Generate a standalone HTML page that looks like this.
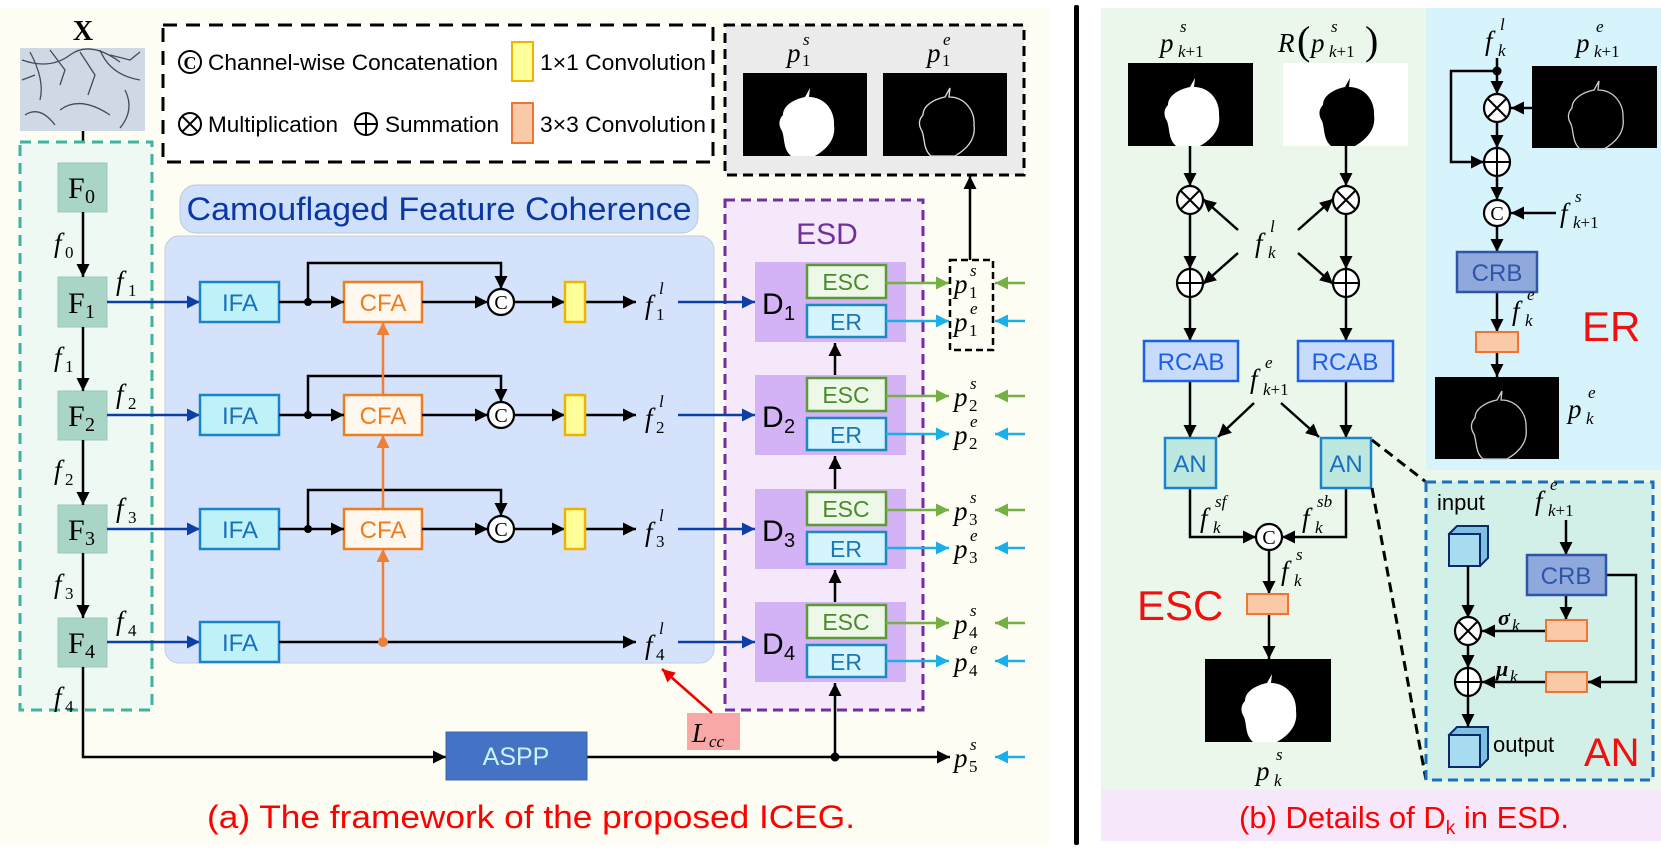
<!DOCTYPE html>
<html><head><meta charset="utf-8"><style>
html,body{margin:0;padding:0;background:#fff}
svg{display:block}
.sans{font-family:"Liberation Sans",sans-serif}
.m{font-family:"Liberation Serif",serif;font-style:italic;font-size:27px}
.sp{font-family:"Liberation Serif",serif;font-style:italic;font-size:17px}
.sb{font-family:"Liberation Serif",serif;font-size:17px}
.sbi{font-family:"Liberation Serif",serif;font-style:italic;font-size:17px}
</style></head><body>
<svg width="1661" height="850" viewBox="0 0 1661 850" xmlns="http://www.w3.org/2000/svg">
<defs>
<marker id="ak" viewBox="0 0 10 10" refX="10" refY="5" markerWidth="13" markerHeight="13" markerUnits="userSpaceOnUse" orient="auto"><path d="M0,0 L10,5 L0,10 z" fill="#000"/></marker>
<marker id="ab" viewBox="0 0 10 10" refX="10" refY="5" markerWidth="13" markerHeight="13" markerUnits="userSpaceOnUse" orient="auto"><path d="M0,0 L10,5 L0,10 z" fill="#0c3ea8"/></marker>
<marker id="ag" viewBox="0 0 10 10" refX="10" refY="5" markerWidth="13" markerHeight="13" markerUnits="userSpaceOnUse" orient="auto"><path d="M0,0 L10,5 L0,10 z" fill="#74b043"/></marker>
<marker id="ac" viewBox="0 0 10 10" refX="10" refY="5" markerWidth="13" markerHeight="13" markerUnits="userSpaceOnUse" orient="auto"><path d="M0,0 L10,5 L0,10 z" fill="#19b0ea"/></marker>
<marker id="ao" viewBox="0 0 10 10" refX="10" refY="5" markerWidth="13" markerHeight="13" markerUnits="userSpaceOnUse" orient="auto"><path d="M0,0 L10,5 L0,10 z" fill="#ee8038"/></marker>
<marker id="ar" viewBox="0 0 10 10" refX="10" refY="5" markerWidth="13" markerHeight="13" markerUnits="userSpaceOnUse" orient="auto"><path d="M0,0 L10,5 L0,10 z" fill="#e00"/></marker>
<path id="blob" d="M40,42 C40,32 52,26 62,24 L67,15 L66,24 C82,24 92,38 91,52 C93,66 84,76 72,83 L48,83 C40,76 42,66 39,58 C35,52 36,46 40,42 Z"/>
</defs>

<rect x="0" y="8" width="1049" height="837" fill="#fdfdf3"/>
<rect x="1074" y="5" width="5" height="840" rx="2" fill="#000"/>
<rect x="1101" y="8" width="325" height="782" fill="#eaf7ea"/>
<rect x="1426" y="8" width="235" height="462" fill="#d7f3fb"/>
<rect x="1426" y="470" width="235" height="320" fill="#eaf7ea"/>
<rect x="1101" y="790" width="560" height="51" fill="#f6e8fa"/>

<text x="83" y="40" text-anchor="middle" font-family="Liberation Serif" font-weight="bold" font-size="28">X</text>
<rect x="20" y="48" width="125" height="83" fill="#cfd9e6"/>
<g stroke="#2b3340" stroke-width="1.3" fill="none" opacity="0.85">
<path d="M22,60 Q50,70 70,55 T120,62"/><path d="M30,52 Q45,80 40,100"/><path d="M100,50 Q110,75 140,80"/><path d="M60,110 Q80,95 110,115"/><path d="M125,90 Q135,110 120,128"/><path d="M25,115 Q40,105 55,125"/><path d="M80,52 L95,75 L88,95"/><path d="M50,50 L65,70 L60,85"/><path d="M110,55 L130,60 L140,52"/><path d="M22,80 L35,75"/>
</g>
<line x1="83" y1="131" x2="83" y2="163" stroke="#000" stroke-width="2.5" marker-end="url(#ak)"/>

<rect x="163" y="25" width="550" height="137" fill="#fff" stroke="#000" stroke-width="3" stroke-dasharray="14,9"/>
<circle cx="190" cy="62" r="11" fill="none" stroke="#000" stroke-width="2"/>
<text x="190" y="69" text-anchor="middle" font-family="Liberation Serif" font-size="18" font-weight="bold">C</text>
<text x="208" y="70" class="sans" font-size="22" textLength="290" lengthAdjust="spacingAndGlyphs">Channel-wise Concatenation</text>
<rect x="512" y="42" width="21" height="39" fill="#ffff99" stroke="#f0b400" stroke-width="2"/>
<text x="540" y="70" class="sans" font-size="22" textLength="166" lengthAdjust="spacingAndGlyphs">1×1 Convolution</text>
<circle cx="190" cy="124" r="11" fill="none" stroke="#000" stroke-width="2"/>
<path d="M182,116 L198,132 M198,116 L182,132" stroke="#000" stroke-width="2"/>
<text x="208" y="132" class="sans" font-size="22" textLength="130" lengthAdjust="spacingAndGlyphs">Multiplication</text>
<circle cx="366" cy="124" r="11" fill="none" stroke="#000" stroke-width="2"/>
<path d="M355,124 L377,124 M366,113 L366,135" stroke="#000" stroke-width="2"/>
<text x="385" y="132" class="sans" font-size="22" textLength="114" lengthAdjust="spacingAndGlyphs">Summation</text>
<rect x="512" y="103" width="21" height="40" fill="#f9c9a8" stroke="#f07535" stroke-width="2"/>
<text x="540" y="132" class="sans" font-size="22" textLength="166" lengthAdjust="spacingAndGlyphs">3×3 Convolution</text>

<rect x="725" y="25" width="299" height="150" fill="#ebebeb" stroke="#000" stroke-width="3" stroke-dasharray="10,6"/>
<text x="787" y="62" class="m">p</text><text x="803" y="45" class="sp">s</text><text x="802" y="66" class="sb">1</text>
<text x="927" y="62" class="m">p</text><text x="943" y="45" class="sp">e</text><text x="942" y="66" class="sb">1</text>
<rect x="743" y="73" width="124" height="83" fill="#000"/>
<use href="#blob" x="743" y="73" fill="#fff"/>
<rect x="883" y="73" width="124" height="83" fill="#000"/>
<use href="#blob" x="883" y="73" fill="none" stroke="#ddd" stroke-width="1.3"/>

<rect x="20" y="142" width="132" height="568" fill="#eef9f4" stroke="#3fb3a0" stroke-width="3" stroke-dasharray="11,7"/>

<rect x="165" y="236" width="549" height="427" rx="14" fill="#d4e3fb" stroke="#c4cde0"/>
<rect x="180" y="185" width="518" height="48" rx="16" fill="#cfe0fa" stroke="#bdc8da"/>
<text x="439" y="220" text-anchor="middle" class="sans" font-size="32" fill="#0a36a6" textLength="505" lengthAdjust="spacingAndGlyphs">Camouflaged Feature Coherence</text>

<rect x="725" y="200" width="198" height="510" fill="#f6e8fb" stroke="#7030a0" stroke-width="3" stroke-dasharray="10,6"/>
<text x="827" y="244" text-anchor="middle" class="sans" font-size="30" fill="#7030a0">ESD</text>

<g fill="#a9d5c6" stroke="#9cc8b8">
<rect x="58" y="163" width="49" height="49"/><rect x="58" y="277" width="49" height="50"/>
<rect x="58" y="391" width="49" height="49"/><rect x="58" y="505" width="49" height="48"/>
<rect x="58" y="618" width="49" height="49"/>
</g>
<g font-family="Liberation Serif" font-size="30">
<text x="68" y="198">F</text><text x="85" y="203" font-size="20">0</text>
<text x="68" y="313">F</text><text x="85" y="318" font-size="20">1</text>
<text x="68" y="426">F</text><text x="85" y="431" font-size="20">2</text>
<text x="68" y="540">F</text><text x="85" y="545" font-size="20">3</text>
<text x="68" y="653">F</text><text x="85" y="658" font-size="20">4</text>
</g>
<g stroke="#000" stroke-width="2.5" fill="none">
<line x1="83" y1="212" x2="83" y2="277" marker-end="url(#ak)"/>
<line x1="83" y1="327" x2="83" y2="391" marker-end="url(#ak)"/>
<line x1="83" y1="440" x2="83" y2="505" marker-end="url(#ak)"/>
<line x1="83" y1="553" x2="83" y2="618" marker-end="url(#ak)"/>
<polyline points="83,667 83,757 446,757" marker-end="url(#ak)"/>
</g>
<text x="54" y="252" class="m">f</text><text x="65" y="258" class="sb">0</text>
<text x="54" y="366" class="m">f</text><text x="65" y="372" class="sb">1</text>
<text x="54" y="479" class="m">f</text><text x="65" y="485" class="sb">2</text>
<text x="54" y="593" class="m">f</text><text x="65" y="599" class="sb">3</text>
<text x="54" y="706" class="m">f</text><text x="65" y="712" class="sb">4</text>
<text x="116" y="290" class="m">f</text><text x="128" y="296" class="sb">1</text>
<text x="116" y="403" class="m">f</text><text x="128" y="409" class="sb">2</text>
<text x="116" y="517" class="m">f</text><text x="128" y="523" class="sb">3</text>
<text x="116" y="630" class="m">f</text><text x="128" y="636" class="sb">4</text>

<g stroke="#0c3ea8" stroke-width="2.5">
<line x1="107" y1="302" x2="200" y2="302" marker-end="url(#ab)"/>
<line x1="107" y1="415" x2="200" y2="415" marker-end="url(#ab)"/>
<line x1="107" y1="529" x2="200" y2="529" marker-end="url(#ab)"/>
<line x1="107" y1="642" x2="200" y2="642" marker-end="url(#ab)"/>
<line x1="678" y1="302" x2="755" y2="302" marker-end="url(#ab)"/>
<line x1="678" y1="415" x2="755" y2="415" marker-end="url(#ab)"/>
<line x1="678" y1="529" x2="755" y2="529" marker-end="url(#ab)"/>
<line x1="678" y1="642" x2="755" y2="642" marker-end="url(#ab)"/>
</g>
<g fill="#bff2f8" stroke="#1a83c9" stroke-width="2.5">
<rect x="200" y="282" width="79" height="40"/><rect x="200" y="395" width="79" height="40"/>
<rect x="200" y="509" width="79" height="40"/><rect x="200" y="622" width="79" height="40"/>
</g>
<g class="sans" font-size="24" fill="#1a70c0" text-anchor="middle">
<text x="240" y="311">IFA</text><text x="240" y="424">IFA</text><text x="240" y="538">IFA</text><text x="240" y="651">IFA</text>
</g>
<g fill="#fff8ee" stroke="#f07c1d" stroke-width="2.5">
<rect x="344" y="282" width="78" height="40"/><rect x="344" y="395" width="78" height="40"/><rect x="344" y="509" width="78" height="40"/>
</g>
<g class="sans" font-size="24" fill="#f07c1d" text-anchor="middle">
<text x="383" y="311">CFA</text><text x="383" y="424">CFA</text><text x="383" y="538">CFA</text>
</g>
<g stroke="#000" stroke-width="2.5" fill="none">
<line x1="279" y1="302" x2="344" y2="302" marker-end="url(#ak)"/>
<line x1="279" y1="415" x2="344" y2="415" marker-end="url(#ak)"/>
<line x1="279" y1="529" x2="344" y2="529" marker-end="url(#ak)"/>
<polyline points="308,302 308,263 501,263 501,289" marker-end="url(#ak)"/>
<polyline points="308,415 308,376 501,376 501,402" marker-end="url(#ak)"/>
<polyline points="308,529 308,490 501,490 501,516" marker-end="url(#ak)"/>
<line x1="422" y1="302" x2="488" y2="302" marker-end="url(#ak)"/>
<line x1="422" y1="415" x2="488" y2="415" marker-end="url(#ak)"/>
<line x1="422" y1="529" x2="488" y2="529" marker-end="url(#ak)"/>
<line x1="514" y1="302" x2="565" y2="302" marker-end="url(#ak)"/>
<line x1="514" y1="415" x2="565" y2="415" marker-end="url(#ak)"/>
<line x1="514" y1="529" x2="565" y2="529" marker-end="url(#ak)"/>
<line x1="585" y1="302" x2="636" y2="302" marker-end="url(#ak)"/>
<line x1="585" y1="415" x2="636" y2="415" marker-end="url(#ak)"/>
<line x1="585" y1="529" x2="636" y2="529" marker-end="url(#ak)"/>
<line x1="279" y1="642" x2="636" y2="642" marker-end="url(#ak)"/>
</g>
<g fill="#000"><circle cx="308" cy="302" r="4"/><circle cx="308" cy="415" r="4"/><circle cx="308" cy="529" r="4"/></g>
<g fill="#fff" stroke="#000" stroke-width="2.2">
<circle cx="501" cy="302" r="13"/><circle cx="501" cy="415" r="13"/><circle cx="501" cy="529" r="13"/>
</g>
<g font-family="Liberation Serif" font-size="20" text-anchor="middle">
<text x="501" y="309">C</text><text x="501" y="422">C</text><text x="501" y="536">C</text>
</g>
<g fill="#ffff99" stroke="#f0b400" stroke-width="2.5">
<rect x="565" y="282" width="20" height="40"/><rect x="565" y="395" width="20" height="40"/><rect x="565" y="509" width="20" height="40"/>
</g>
<g stroke="#ee8038" stroke-width="2.5">
<line x1="383" y1="642" x2="383" y2="549" marker-end="url(#ao)"/>
<line x1="383" y1="509" x2="383" y2="435" marker-end="url(#ao)"/>
<line x1="383" y1="395" x2="383" y2="322" marker-end="url(#ao)"/>
</g>
<circle cx="383" cy="642" r="5" fill="#ee8038"/>
<text x="645" y="314" class="m">f</text><text x="659" y="294" class="sp">l</text><text x="656" y="320" class="sb">1</text>
<text x="645" y="427" class="m">f</text><text x="659" y="407" class="sp">l</text><text x="656" y="433" class="sb">2</text>
<text x="645" y="541" class="m">f</text><text x="659" y="521" class="sp">l</text><text x="656" y="547" class="sb">3</text>
<text x="645" y="654" class="m">f</text><text x="659" y="634" class="sp">l</text><text x="656" y="660" class="sb">4</text>

<g fill="#d3b2f5"><rect x="755" y="262" width="151" height="80"/><rect x="755" y="375" width="151" height="80"/><rect x="755" y="489" width="151" height="80"/><rect x="755" y="602" width="151" height="80"/></g>
<g class="sans" font-size="30"><text x="762" y="314">D</text><text x="784" y="320" font-size="20">1</text>
<text x="762" y="427">D</text><text x="784" y="433" font-size="20">2</text>
<text x="762" y="541">D</text><text x="784" y="547" font-size="20">3</text>
<text x="762" y="654">D</text><text x="784" y="660" font-size="20">4</text></g>
<g fill="#eef8e8" stroke="#5c9a38" stroke-width="2.5">
<rect x="807" y="265" width="79" height="33"/><rect x="807" y="378" width="79" height="33"/><rect x="807" y="492" width="79" height="33"/><rect x="807" y="605" width="79" height="33"/>
</g>
<g fill="#d6f4fb" stroke="#1a8ac0" stroke-width="2.5">
<rect x="807" y="305" width="79" height="32"/><rect x="807" y="418" width="79" height="32"/><rect x="807" y="532" width="79" height="32"/><rect x="807" y="645" width="79" height="32"/>
</g>
<g class="sans" font-size="23" text-anchor="middle" fill="#4a8a2a">
<text x="846" y="290">ESC</text><text x="846" y="403">ESC</text><text x="846" y="517">ESC</text><text x="846" y="630">ESC</text>
</g>
<g class="sans" font-size="23" text-anchor="middle" fill="#1a78b8">
<text x="846" y="330">ER</text><text x="846" y="443">ER</text><text x="846" y="557">ER</text><text x="846" y="670">ER</text>
</g>
<g stroke="#000" stroke-width="2.5">
<line x1="835" y1="375" x2="835" y2="343" marker-end="url(#ak)"/>
<line x1="835" y1="489" x2="835" y2="456" marker-end="url(#ak)"/>
<line x1="835" y1="602" x2="835" y2="570" marker-end="url(#ak)"/>
<line x1="835" y1="757" x2="835" y2="683" marker-end="url(#ak)"/>
<line x1="587" y1="757" x2="950" y2="757" marker-end="url(#ak)"/>
<line x1="970" y1="260" x2="970" y2="176" marker-end="url(#ak)"/>
</g>
<circle cx="835" cy="757" r="4.5"/>
<g stroke="#74b043" stroke-width="2.5">
<line x1="886" y1="283" x2="949" y2="283" marker-end="url(#ag)"/>
<line x1="886" y1="396" x2="949" y2="396" marker-end="url(#ag)"/>
<line x1="886" y1="510" x2="949" y2="510" marker-end="url(#ag)"/>
<line x1="886" y1="623" x2="949" y2="623" marker-end="url(#ag)"/>
<line x1="1025" y1="283" x2="995" y2="283" marker-end="url(#ag)"/>
<line x1="1025" y1="396" x2="995" y2="396" marker-end="url(#ag)"/>
<line x1="1025" y1="510" x2="995" y2="510" marker-end="url(#ag)"/>
<line x1="1025" y1="623" x2="995" y2="623" marker-end="url(#ag)"/>
</g>
<g stroke="#19b0ea" stroke-width="2.5">
<line x1="886" y1="321" x2="949" y2="321" marker-end="url(#ac)"/>
<line x1="886" y1="434" x2="949" y2="434" marker-end="url(#ac)"/>
<line x1="886" y1="548" x2="949" y2="548" marker-end="url(#ac)"/>
<line x1="886" y1="661" x2="949" y2="661" marker-end="url(#ac)"/>
<line x1="1025" y1="321" x2="995" y2="321" marker-end="url(#ac)"/>
<line x1="1025" y1="434" x2="995" y2="434" marker-end="url(#ac)"/>
<line x1="1025" y1="548" x2="995" y2="548" marker-end="url(#ac)"/>
<line x1="1025" y1="661" x2="995" y2="661" marker-end="url(#ac)"/>
<line x1="1025" y1="757" x2="995" y2="757" marker-end="url(#ac)"/>
</g>
<rect x="950" y="260" width="43" height="90" fill="none" stroke="#000" stroke-width="2.5" stroke-dasharray="7,4"/>
<g>
<text x="954" y="293" class="m">p</text><text x="970" y="276" class="sp">s</text><text x="969" y="298" class="sb">1</text>
<text x="954" y="331" class="m">p</text><text x="970" y="314" class="sp">e</text><text x="969" y="336" class="sb">1</text>
<text x="954" y="406" class="m">p</text><text x="970" y="389" class="sp">s</text><text x="969" y="411" class="sb">2</text>
<text x="954" y="444" class="m">p</text><text x="970" y="427" class="sp">e</text><text x="969" y="449" class="sb">2</text>
<text x="954" y="520" class="m">p</text><text x="970" y="503" class="sp">s</text><text x="969" y="525" class="sb">3</text>
<text x="954" y="558" class="m">p</text><text x="970" y="541" class="sp">e</text><text x="969" y="563" class="sb">3</text>
<text x="954" y="633" class="m">p</text><text x="970" y="616" class="sp">s</text><text x="969" y="638" class="sb">4</text>
<text x="954" y="671" class="m">p</text><text x="970" y="654" class="sp">e</text><text x="969" y="676" class="sb">4</text>
<text x="954" y="767" class="m">p</text><text x="970" y="750" class="sp">s</text><text x="969" y="772" class="sb">5</text>
</g>
<rect x="446" y="732" width="141" height="48" fill="#4472c4" stroke="#3a63ad"/>
<text x="516" y="765" text-anchor="middle" class="sans" font-size="25" fill="#c8f4ff">ASPP</text>
<rect x="687" y="713" width="53" height="37" fill="#f8a8a6"/>
<text x="692" y="742" class="m" font-size="28">L</text><text x="709" y="747" class="sbi" font-size="18">cc</text>
<line x1="712" y1="713" x2="662" y2="669" stroke="#e00" stroke-width="2.5" marker-end="url(#ar)"/>
<text x="531" y="828" text-anchor="middle" class="sans" font-size="32" fill="#f00" textLength="648" lengthAdjust="spacingAndGlyphs">(a)  The framework of the proposed ICEG.</text>

<text x="1160" y="52" class="m" font-size="31">p</text><text x="1180" y="32" class="sp" font-size="19">s</text><text x="1178" y="57" class="sbi" font-size="19">k<tspan font-style="normal">+1</tspan></text>
<text x="1278" y="52" class="m" font-size="31">R</text><text x="1297" y="54" font-family="Liberation Serif" font-size="40">(</text>
<text x="1311" y="52" class="m" font-size="31">p</text><text x="1331" y="32" class="sp" font-size="19">s</text><text x="1329" y="57" class="sbi" font-size="19">k<tspan font-style="normal">+1</tspan></text>
<text x="1365" y="54" font-family="Liberation Serif" font-size="40">)</text>
<rect x="1128" y="63" width="125" height="83" fill="#000"/>
<use href="#blob" x="1128" y="63" fill="#fff"/>
<rect x="1283" y="63" width="125" height="83" fill="#fff"/>
<use href="#blob" x="1283" y="63" fill="#000"/>
<g stroke="#000" stroke-width="2.5" fill="none">
<line x1="1190" y1="146" x2="1190" y2="186" marker-end="url(#ak)"/>
<line x1="1346" y1="146" x2="1346" y2="186" marker-end="url(#ak)"/>
<line x1="1190" y1="214" x2="1190" y2="269" marker-end="url(#ak)"/>
<line x1="1346" y1="214" x2="1346" y2="269" marker-end="url(#ak)"/>
<line x1="1190" y1="297" x2="1190" y2="341" marker-end="url(#ak)"/>
<line x1="1346" y1="297" x2="1346" y2="341" marker-end="url(#ak)"/>
<line x1="1238" y1="230" x2="1203" y2="199" marker-end="url(#ak)"/>
<line x1="1238" y1="253" x2="1203" y2="284" marker-end="url(#ak)"/>
<line x1="1298" y1="230" x2="1333" y2="199" marker-end="url(#ak)"/>
<line x1="1298" y1="253" x2="1333" y2="284" marker-end="url(#ak)"/>
<line x1="1190" y1="381" x2="1190" y2="438" marker-end="url(#ak)"/>
<line x1="1346" y1="381" x2="1346" y2="438" marker-end="url(#ak)"/>
<line x1="1254" y1="403" x2="1218" y2="437" marker-end="url(#ak)"/>
<line x1="1281" y1="403" x2="1319" y2="437" marker-end="url(#ak)"/>
<polyline points="1190,488 1190,537 1256,537" marker-end="url(#ak)"/>
<polyline points="1346,488 1346,537 1282,537" marker-end="url(#ak)"/>
<line x1="1269" y1="550" x2="1269" y2="594" marker-end="url(#ak)"/>
<line x1="1269" y1="614" x2="1269" y2="659" marker-end="url(#ak)"/>
</g>
<g fill="#fff" stroke="#000" stroke-width="2.2">
<ellipse cx="1190" cy="200" rx="13" ry="14"/><ellipse cx="1346" cy="200" rx="13" ry="14"/>
<ellipse cx="1190" cy="283" rx="13" ry="14"/><ellipse cx="1346" cy="283" rx="13" ry="14"/>
<ellipse cx="1269" cy="537" rx="13" ry="13"/>
</g>
<g stroke="#000" stroke-width="2">
<path d="M1181,191 L1199,209 M1199,191 L1181,209 M1337,191 L1355,209 M1355,191 L1337,209"/>
<path d="M1177,283 L1203,283 M1190,269 L1190,297 M1333,283 L1359,283 M1346,269 L1346,297"/>
</g>
<text x="1269" y="544" text-anchor="middle" font-family="Liberation Serif" font-size="20">C</text>
<text x="1255" y="252" class="m" font-size="30">f</text><text x="1270" y="232" class="sp" font-size="19">l</text><text x="1268" y="258" class="sbi" font-size="19">k</text>
<g fill="#c7dbfb" stroke="#1d5fe8" stroke-width="2.5"><rect x="1144" y="341" width="94" height="40"/><rect x="1298" y="341" width="95" height="40"/></g>
<g class="sans" font-size="24" fill="#1d5fe8" text-anchor="middle"><text x="1191" y="370">RCAB</text><text x="1345" y="370">RCAB</text></g>
<text x="1250" y="388" class="m" font-size="30">f</text><text x="1265" y="368" class="sp" font-size="19">e</text><text x="1263" y="395" class="sbi" font-size="19">k<tspan font-style="normal">+1</tspan></text>
<g fill="#bde8df" stroke="#1a83c9" stroke-width="2.5"><rect x="1165" y="438" width="51" height="50"/><rect x="1321" y="438" width="50" height="50"/></g>
<g class="sans" font-size="24" fill="#1a70c0" text-anchor="middle"><text x="1190" y="472">AN</text><text x="1346" y="472">AN</text></g>
<text x="1200" y="527" class="m" font-size="30">f</text><text x="1215" y="507" class="sp" font-size="19">sf</text><text x="1213" y="533" class="sbi" font-size="19">k</text>
<text x="1302" y="527" class="m" font-size="30">f</text><text x="1317" y="507" class="sp" font-size="19">sb</text><text x="1315" y="533" class="sbi" font-size="19">k</text>
<text x="1281" y="580" class="m" font-size="30">f</text><text x="1296" y="560" class="sp" font-size="19">s</text><text x="1294" y="586" class="sbi" font-size="19">k</text>
<rect x="1247" y="594" width="41" height="20" fill="#f9c9a8" stroke="#f07535" stroke-width="2"/>
<text x="1137" y="620" class="sans" font-size="42" fill="#f01010">ESC</text>
<rect x="1205" y="659" width="126" height="83" fill="#000"/>
<use href="#blob" x="1205" y="659" fill="#fff"/>
<text x="1256" y="780" class="m" font-size="30">p</text><text x="1276" y="760" class="sp" font-size="19">s</text><text x="1274" y="786" class="sbi" font-size="19">k</text>
<g stroke="#000" stroke-width="3" stroke-dasharray="10,6"><line x1="1372" y1="440" x2="1426" y2="482"/><line x1="1372" y1="488" x2="1426" y2="780"/></g>

<text x="1485" y="50" class="m" font-size="30">f</text><text x="1500" y="30" class="sp" font-size="19">l</text><text x="1498" y="56" class="sbi" font-size="19">k</text>
<text x="1576" y="52" class="m" font-size="31">p</text><text x="1596" y="32" class="sp" font-size="19">e</text><text x="1594" y="57" class="sbi" font-size="19">k<tspan font-style="normal">+1</tspan></text>
<rect x="1532" y="66" width="125" height="82" fill="#000"/>
<use href="#blob" x="1532" y="66" fill="none" stroke="#ccc" stroke-width="1.3"/>
<g stroke="#000" stroke-width="2.5" fill="none">
<line x1="1497" y1="58" x2="1497" y2="94" marker-end="url(#ak)"/>
<polyline points="1497,71 1451,71 1451,162 1484,162" marker-end="url(#ak)"/>
<line x1="1532" y1="108" x2="1511" y2="108" marker-end="url(#ak)"/>
<line x1="1497" y1="122" x2="1497" y2="148" marker-end="url(#ak)"/>
<line x1="1497" y1="176" x2="1497" y2="200" marker-end="url(#ak)"/>
<line x1="1556" y1="213" x2="1511" y2="213" marker-end="url(#ak)"/>
<line x1="1497" y1="226" x2="1497" y2="252" marker-end="url(#ak)"/>
<line x1="1497" y1="292" x2="1497" y2="332" marker-end="url(#ak)"/>
<line x1="1497" y1="352" x2="1497" y2="377" marker-end="url(#ak)"/>
</g>
<circle cx="1497" cy="71" r="4.5"/>
<g fill="#fff" stroke="#000" stroke-width="2.2">
<ellipse cx="1497" cy="108" rx="13" ry="14"/><ellipse cx="1497" cy="162" rx="13" ry="14"/><ellipse cx="1497" cy="213" rx="13" ry="13"/>
</g>
<path d="M1488,99 L1506,117 M1506,99 L1488,117 M1484,162 L1510,162 M1497,148 L1497,176" stroke="#000" stroke-width="2"/>
<text x="1497" y="220" text-anchor="middle" font-family="Liberation Serif" font-size="20">C</text>
<text x="1560" y="222" class="m" font-size="30">f</text><text x="1575" y="202" class="sp" font-size="19">s</text><text x="1573" y="228" class="sbi" font-size="19">k<tspan font-style="normal">+1</tspan></text>
<rect x="1457" y="252" width="80" height="40" fill="#8fa9dc" stroke="#2f55a8" stroke-width="2.5"/>
<text x="1497" y="281" text-anchor="middle" class="sans" font-size="24" fill="#2f55a8">CRB</text>
<text x="1512" y="320" class="m" font-size="30">f</text><text x="1527" y="300" class="sp" font-size="19">e</text><text x="1525" y="326" class="sbi" font-size="19">k</text>
<rect x="1476" y="332" width="42" height="20" fill="#f9c9a8" stroke="#f07535" stroke-width="2"/>
<text x="1582" y="341" class="sans" font-size="42" fill="#f01010">ER</text>
<rect x="1435" y="377" width="124" height="82" fill="#000"/>
<use href="#blob" x="1435" y="376" fill="none" stroke="#ccc" stroke-width="1.3"/>
<text x="1568" y="418" class="m" font-size="30">p</text><text x="1588" y="398" class="sp" font-size="19">e</text><text x="1586" y="424" class="sbi" font-size="19">k</text>

<rect x="1426" y="482" width="227" height="298" fill="#d3f0e8" stroke="#1a6fc0" stroke-width="3" stroke-dasharray="10,6"/>
<text x="1437" y="510" class="sans" font-size="22">input</text>
<text x="1535" y="510" class="m" font-size="30">f</text><text x="1550" y="490" class="sp" font-size="19">e</text><text x="1548" y="516" class="sbi" font-size="19">k<tspan font-style="normal">+1</tspan></text>
<g stroke="#0a2a6a" stroke-width="2" fill="#a8dcf0">
<path d="M1449,534 L1457,526 L1488,526 L1488,558 L1480,566 Z" fill="#7fc0e0"/><rect x="1449" y="534" width="31" height="32"/>
<path d="M1449,735 L1457,727 L1488,727 L1488,759 L1480,767 Z" fill="#7fc0e0"/><rect x="1449" y="735" width="31" height="32"/>
</g>
<g stroke="#000" stroke-width="2.5" fill="none">
<line x1="1468" y1="566" x2="1468" y2="618" marker-end="url(#ak)"/>
<line x1="1468" y1="645" x2="1468" y2="668" marker-end="url(#ak)"/>
<line x1="1468" y1="696" x2="1468" y2="727" marker-end="url(#ak)"/>
<line x1="1566" y1="520" x2="1566" y2="555" marker-end="url(#ak)"/>
<line x1="1566" y1="595" x2="1566" y2="620" marker-end="url(#ak)"/>
<line x1="1546" y1="631" x2="1482" y2="631" marker-end="url(#ak)"/>
<line x1="1546" y1="682" x2="1482" y2="682" marker-end="url(#ak)"/>
<polyline points="1606,575 1636,575 1636,682 1588,682" marker-end="url(#ak)"/>
</g>
<g fill="#fff" stroke="#000" stroke-width="2.2"><ellipse cx="1468" cy="631" rx="13" ry="14"/><ellipse cx="1468" cy="682" rx="13" ry="14"/></g>
<path d="M1459,622 L1477,640 M1477,622 L1459,640 M1455,682 L1481,682 M1468,668 L1468,696" stroke="#000" stroke-width="2"/>
<rect x="1527" y="555" width="79" height="40" fill="#8fa9dc" stroke="#2f55a8" stroke-width="2.5"/>
<text x="1566" y="584" text-anchor="middle" class="sans" font-size="24" fill="#2f55a8">CRB</text>
<rect x="1546" y="620" width="41" height="21" fill="#f9c9a8" stroke="#f07535" stroke-width="2"/>
<rect x="1546" y="672" width="41" height="20" fill="#f9c9a8" stroke="#f07535" stroke-width="2"/>
<text x="1498" y="625" font-family="Liberation Serif" font-style="italic" font-weight="bold" font-size="22">σ</text><text x="1512" y="631" class="sbi" font-size="14">k</text>
<text x="1496" y="676" font-family="Liberation Serif" font-style="italic" font-weight="bold" font-size="22">μ</text><text x="1510" y="682" class="sbi" font-size="14">k</text>
<text x="1493" y="752" class="sans" font-size="22">output</text>
<text x="1584" y="766" class="sans" font-size="40" fill="#f01010">AN</text>

<text x="1404" y="828" text-anchor="middle" class="sans" font-size="31" fill="#f00">(b)  Details of D<tspan font-size="19" dy="6">k</tspan><tspan dy="-6"> in ESD.</tspan></text>
</svg>
</body></html>
